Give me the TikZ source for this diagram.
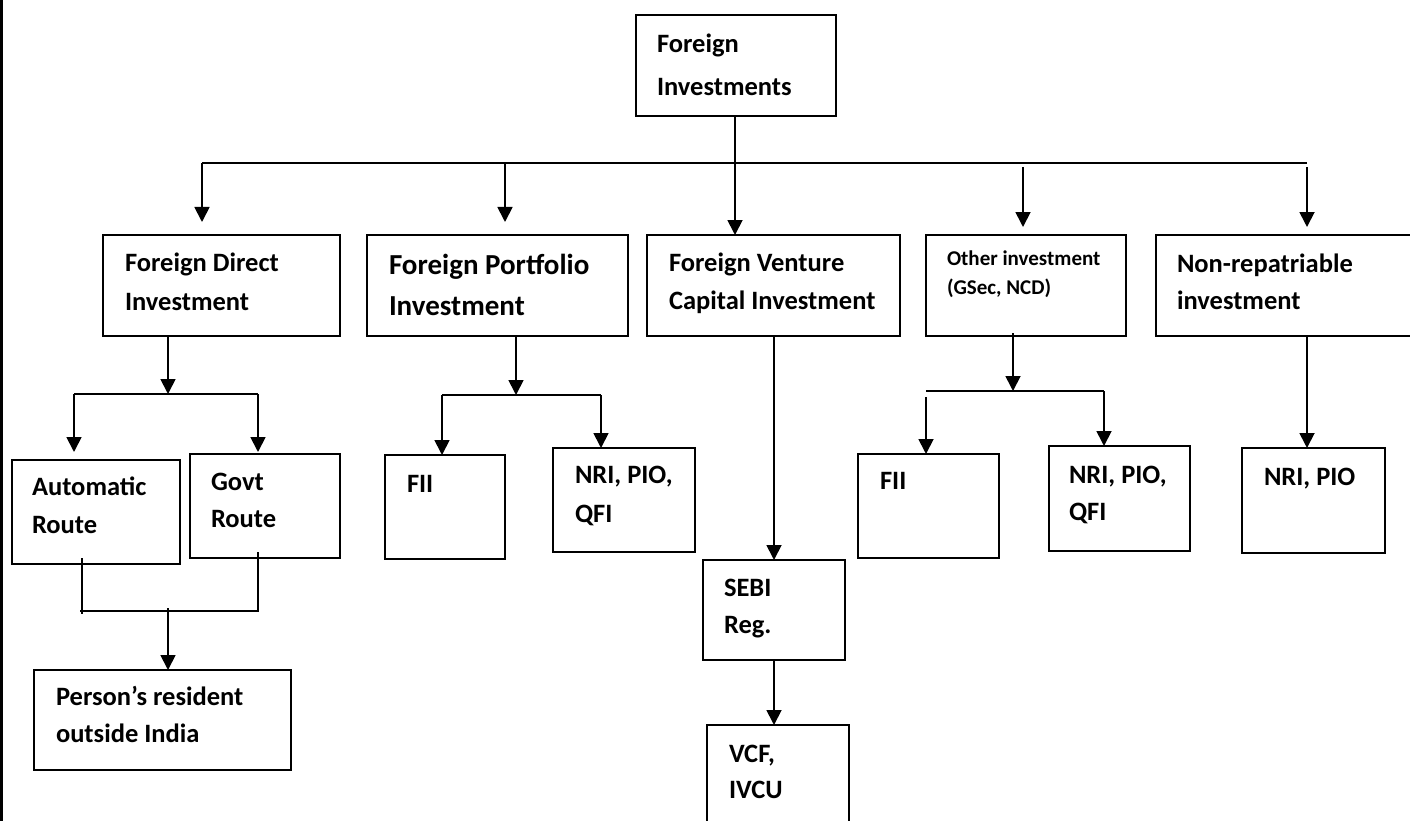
\documentclass[tikz,border=0pt]{standalone}
\usepackage{fontspec}
\setmainfont{Carlito}
\usetikzlibrary{arrows.meta}
\tikzset{
  box/.style={draw, line width=2pt, inner sep=0pt, outer sep=0pt},
  txt/.style={inner sep=0pt, outer sep=0pt, align=left, anchor=base west, font=\bfseries\fontsize{26.5}{#1}\selectfont},
  txt/.default=37,
  conn/.style={line width=1.8pt},
  arr/.style={line width=1.8pt, -{Triangle[length=15pt,width=15pt]}}
}
\newcommand\Bx[5]{\node[box, anchor=north west, minimum width={(#4)-(#2)}, minimum height={(#5)-(#3)}] (#1) at (#2,#3) {};}
\begin{document}
\begin{tikzpicture}[x=1pt,y=-1pt]
\useasboundingbox (0,0) rectangle (1410,821);
\clip (0,0) rectangle (1410,821);
% left border
\coordinate (bt) at (1.5,0); \coordinate (bb) at (1.5,821);
\draw[line width=3pt] (bt) -- (bb);

% boxes
\Bx{fi}{636}{15.5}{836}{116}
\Bx{fdi}{103}{235}{340}{336}
\Bx{fpi}{367}{235}{628}{336}
\Bx{fvci}{647}{235}{900}{336}
\Bx{oth}{926}{235}{1126}{336}
\Bx{nrep}{1156}{235}{1420}{336}
\Bx{auto}{12}{460}{180}{564}
\Bx{govt}{190}{454}{340}{558}
\Bx{pers}{34}{670}{291}{770}
\Bx{fiiA}{385}{455}{505}{559}
\Bx{nriA}{553}{448}{695}{552}
\Bx{sebi}{703}{560}{845}{660}
\Bx{vcf}{707}{725}{849}{840}
\Bx{fiiB}{858}{454}{999}{558}
\Bx{nriB}{1049}{446}{1190}{551}
\Bx{nriC}{1242}{448}{1385}{553}

% texts (anchor = baseline of the last line)
\node[txt=43] (fi-t) at (657,96) {Foreign\\Investments};
\node[txt=39] (fdi-t) at (125,310) {Foreign Direct\\Investment};
\node[txt, font=\bfseries\fontsize{29}{41}\selectfont] (fpi-t) at (389,315) {Foreign Portfolio\\Investment};
\node[txt=38] (fvci-t) at (669,309) {Foreign Venture\\Capital Investment};
\node[txt, font=\bfseries\fontsize{21}{29}\selectfont] (oth-t) at (947,294) {Other investment\\(GSec, NCD)};
\node[txt] (nrep-t) at (1177,309) {Non-repatriable\\investment};
\node[txt=38] (auto-t) at (32,533) {Automatic\\Route};
\node[txt] (govt-t) at (211,527) {Govt\\Route};
\node[txt] (pers-t) at (56,742) {Person’s resident\\outside India};
\node[txt] (fiiA-t) at (407,492) {FII};
\node[txt=39] (nriA-t) at (575,522) {NRI, PIO,\\QFI};
\node[txt] (sebi-t) at (724,633) {SEBI\\Reg.};
\node[txt=36] (vcf-t) at (729,798) {VCF,\\IVCU};
\node[txt] (fiiB-t) at (880,489) {FII};
\node[txt] (nriB-t) at (1069,520) {NRI, PIO,\\QFI};
\node[txt] (nriC-t) at (1264,485) {NRI, PIO};

% top level bus
\coordinate (busL) at (202,163);
\coordinate (busR) at (1307,163);
\draw[conn] (busL) -- (busR);
\draw[arr] (fi.south -| 735,0) -- (735,0 |- fvci.north);
\coordinate (aFPI) at (505,163);
\coordinate (aOTH) at (1023,167);
\coordinate (aNR) at (1307,167);
\draw[arr] (busL) -- +(0,59);
\draw[arr] (aFPI) -- +(0,59);
\draw[arr] (aOTH) -- +(0,60);
\draw[arr] (aNR) -- +(0,60);

% FDI branch
\coordinate (fdiB) at (168,394);
\coordinate (fdiBL) at (74,394);
\coordinate (fdiBR) at (258,394);
\draw[arr] (fdi.south -| fdiB) -- (fdiB);
\draw[conn] (fdiBL) -- (fdiBR);
\draw[arr] (fdiBL) -- +(0,58);
\draw[arr] (fdiBR) -- +(0,58);
\coordinate (autoD) at (82,558);
\coordinate (govtD) at (258,552);
\coordinate (jL) at (80,611);
\coordinate (jR) at (259,611);
\draw[conn] (autoD) -- (82,614);
\draw[conn] (govtD) -- (258,611);
\draw[conn] (jL) -- (jR);
\coordinate (jM) at (168,608);
\draw[arr] (jM) -- (jM |- pers.north);

% FPI branch
\coordinate (fpiB) at (516,395);
\coordinate (fpiBL) at (442,395);
\coordinate (fpiBR) at (601,395);
\draw[arr] (fpi.south -| fpiB) -- (fpiB);
\draw[conn] (fpiBL) -- (fpiBR);
\draw[arr] (fpiBL) -- (fpiBL |- fiiA.north);
\draw[arr] (fpiBR) -- (fpiBR |- nriA.north);

% FVCI branch
\coordinate (vx) at (774,336);
\draw[arr] (vx) -- (vx |- sebi.north);
\draw[arr] (sebi.south -| vx) -- (vx |- vcf.north);

% Other branch
\coordinate (othB) at (1013,391);
\coordinate (othBL) at (926,391);
\coordinate (othBR) at (1104,391);
\draw[arr] (1013,333) -- (othB);
\draw[conn] (othBL) -- (othBR);
\draw[arr] (926,397) -- (926,0 |- fiiB.north);
\draw[arr] (othBR) -- (othBR |- nriB.north);

% Non-rep branch
\coordinate (nrx) at (1307,336);
\draw[arr] (nrx) -- (nrx |- nriC.north);
\end{tikzpicture}
\end{document}
